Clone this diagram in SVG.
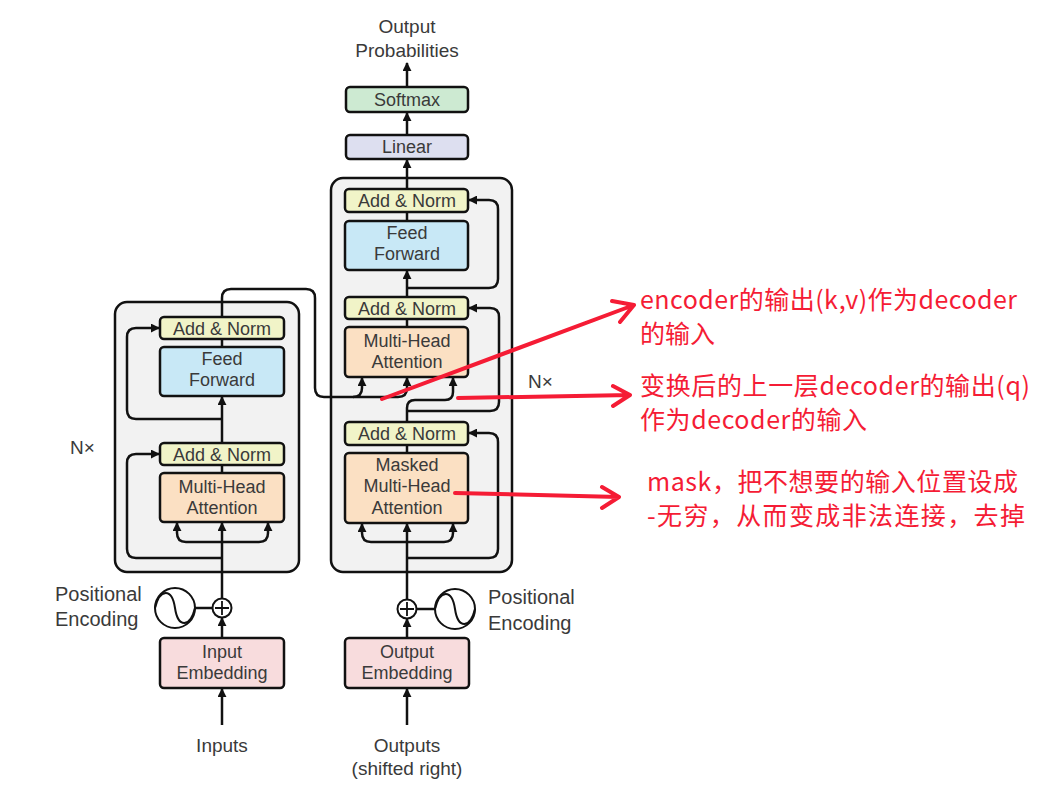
<svg xmlns="http://www.w3.org/2000/svg" width="1060" height="802" viewBox="0 0 1060 802">
<style>
.blk{fill:#F2F2F2;stroke:#111;stroke-width:2.5}
.box{stroke:#111;stroke-width:2.5}
.an{fill:#F1F4C8}
.ff{fill:#C8E8F6}
.mha{fill:#FBE0C3}
.emb{fill:#F8DCDD}
.lin{fill:#DDDFF0}
.sm{fill:#CDEAD2}
.t{font-family:"Liberation Sans",Arial,sans-serif;font-size:18px;fill:#3a3a3a;text-anchor:middle}
.lb{font-family:"Liberation Sans",Arial,sans-serif;font-size:19px;fill:#3a3a3a}
.c{fill:none;stroke:#111;stroke-width:2.5}
.ca{fill:none;stroke:#111;stroke-width:2.5;marker-end:url(#ah)}
.red{fill:none;stroke:#F51C35;stroke-width:4;stroke-linecap:round;stroke-linejoin:round}
.rt{font-family:"Noto Sans CJK SC","Noto Sans",sans-serif;font-size:25px;fill:#F51C35}
</style>
<defs>
<marker id="ah" viewBox="0 0 10 10" refX="9" refY="5" markerWidth="9" markerHeight="9" markerUnits="userSpaceOnUse" orient="auto"><path d="M0,0 L10,5 L0,10 z" fill="#111"/></marker>
</defs>
<rect width="1060" height="802" fill="#fff"/>

<g id="encoder-block"><rect class="blk" x="115" y="302" width="184" height="270" rx="12"/></g>
<g id="decoder-block"><rect class="blk" x="331" y="178" width="181" height="394" rx="12"/></g>

<g id="connectors">
<!-- encoder -->
<path class="ca" d="M222,725 V689"/>
<path class="ca" d="M222,638 V618"/>
<path class="ca" d="M222,598 V523"/>
<path class="ca" d="M222,542 H186 Q177,542 177,533 V523"/>
<path class="ca" d="M222,542 H259 Q268,542 268,533 V523"/>
<path class="ca" d="M222,558 H136 Q127,558 127,549 V463 Q127,454 136,454 H159"/>
<path class="c" d="M222,473 V465"/>
<path class="ca" d="M222,443 V397"/>
<path class="ca" d="M222,419 H136 Q127,419 127,410 V337 Q127,328 136,328 H159"/>
<path class="c" d="M222,347 V339"/>
<path class="ca" d="M222,317 V298 Q222,289 231,289 H306 Q315,289 315,298 V388 Q315,397 324,397 H353 Q362,397 362,388 V378"/>
<path class="ca" d="M353,397 H398 Q407,397 407,388 V378"/>
<!-- decoder -->
<path class="ca" d="M407,725 V689"/>
<path class="ca" d="M407,638 V619"/>
<path class="ca" d="M407,599 V524"/>
<path class="ca" d="M407,542 H371 Q362,542 362,533 V524"/>
<path class="ca" d="M407,542 H444 Q453,542 453,533 V524"/>
<path class="ca" d="M407,558 H489 Q498,558 498,549 V442 Q498,433 489,433 H469"/>
<path class="c" d="M407,453 V445"/>
<path class="ca" d="M407,422 V408 Q407,400 415,400 H445 Q453,400 453,392 V378"/>
<path class="ca" d="M407,411 H490 Q499,411 499,402 V317 Q499,308 490,308 H469"/>
<path class="c" d="M407,327 V319"/>
<path class="ca" d="M407,297 V271"/>
<path class="ca" d="M407,288 H489 Q498,288 498,279 V209 Q498,200 489,200 H469"/>
<path class="c" d="M407,221 V212"/>
<path class="ca" d="M407,189 V160"/>
<path class="ca" d="M407,135 V113"/>
<path class="ca" d="M407,87 V63"/>
<!-- positional encoding links -->
<path class="c" d="M195,608 H213"/>
<path class="c" d="M416.5,609 H435"/>
</g>

<g id="enc-pos-plus"><circle cx="222" cy="608" r="9.5" fill="#fff" stroke="#111" stroke-width="2"/><path d="M215,608 H229 M222,601 V615" stroke="#111" stroke-width="1.8"/></g>
<g id="enc-pos-sine"><circle cx="175" cy="608" r="20" fill="#fff" stroke="#111" stroke-width="2"/><path d="M155,608 C160,588 172,588 175,608 C178,628 190,628 195,608" fill="none" stroke="#111" stroke-width="2"/></g>
<g id="dec-pos-plus"><circle cx="407" cy="609" r="9.5" fill="#fff" stroke="#111" stroke-width="2"/><path d="M400,609 H414 M407,602 V616" stroke="#111" stroke-width="1.8"/></g>
<g id="dec-pos-sine"><circle cx="455" cy="609" r="20" fill="#fff" stroke="#111" stroke-width="2"/><path d="M435,609 C440,589 452,589 455,609 C458,629 470,629 475,609" fill="none" stroke="#111" stroke-width="2"/></g>

<g id="enc-addnorm2"><rect class="box an" x="160" y="317" width="124" height="22" rx="4"/><text class="t" x="222" y="334.5">Add &amp; Norm</text></g>
<g id="enc-ff"><rect class="box ff" x="160" y="347" width="124" height="49" rx="4"/><text class="t" x="222" y="365">Feed</text><text class="t" x="222" y="386">Forward</text></g>
<g id="enc-addnorm1"><rect class="box an" x="160" y="443" width="124" height="22" rx="4"/><text class="t" x="222" y="460.5">Add &amp; Norm</text></g>
<g id="enc-mha"><rect class="box mha" x="160" y="473" width="124" height="49" rx="4"/><text class="t" x="222" y="493">Multi-Head</text><text class="t" x="222" y="514">Attention</text></g>
<g id="enc-emb"><rect class="box emb" x="160" y="638" width="124" height="50" rx="4"/><text class="t" x="222" y="658">Input</text><text class="t" x="222" y="679">Embedding</text></g>

<g id="dec-softmax"><rect class="box sm" x="346" y="87" width="122" height="25" rx="4"/><text class="t" x="407" y="106">Softmax</text></g>
<g id="dec-linear"><rect class="box lin" x="346" y="135" width="122" height="24" rx="4"/><text class="t" x="407" y="153">Linear</text></g>
<g id="dec-addnorm3"><rect class="box an" x="345" y="189" width="123" height="23" rx="4"/><text class="t" x="407" y="207">Add &amp; Norm</text></g>
<g id="dec-ff"><rect class="box ff" x="345" y="221" width="123" height="49" rx="4"/><text class="t" x="407" y="239">Feed</text><text class="t" x="407" y="260">Forward</text></g>
<g id="dec-addnorm2"><rect class="box an" x="345" y="297" width="123" height="22" rx="4"/><text class="t" x="407" y="314.5">Add &amp; Norm</text></g>
<g id="dec-mha"><rect class="box mha" x="345" y="327" width="123" height="50" rx="4"/><text class="t" x="407" y="347">Multi-Head</text><text class="t" x="407" y="368">Attention</text></g>
<g id="dec-addnorm1"><rect class="box an" x="345" y="422" width="123" height="23" rx="4"/><text class="t" x="407" y="440">Add &amp; Norm</text></g>
<g id="dec-mmha"><rect class="box mha" x="345" y="453" width="123" height="70" rx="4"/><text class="t" x="407" y="471">Masked</text><text class="t" x="407" y="492">Multi-Head</text><text class="t" x="407" y="514">Attention</text></g>
<g id="dec-emb"><rect class="box emb" x="345" y="638" width="124" height="50" rx="4"/><text class="t" x="407" y="658">Output</text><text class="t" x="407" y="679">Embedding</text></g>

<g id="labels">
<text class="lb" x="407" y="33" text-anchor="middle">Output</text>
<text class="lb" x="407" y="57" text-anchor="middle">Probabilities</text>
<text class="lb" x="55" y="601" style="font-size:20px">Positional</text>
<text class="lb" x="55" y="626" style="font-size:20px">Encoding</text>
<text class="lb" x="488" y="604" style="font-size:20px">Positional</text>
<text class="lb" x="488" y="630" style="font-size:20px">Encoding</text>
<text class="lb" x="222" y="752" text-anchor="middle">Inputs</text>
<text class="lb" x="407" y="752" text-anchor="middle">Outputs</text>
<text class="lb" x="407" y="775" text-anchor="middle">(shifted right)</text>
<text class="lb" x="70" y="454">N×</text>
<text class="lb" x="528" y="388">N×</text>
</g>

<g id="annotations">
<path class="red" d="M382,399 L634,305 M612,301 L634,305 L620,322"/>
<path class="red" d="M458,398 L630,395 M613,386 L630,395 L613,406"/>
<path class="red" d="M455,493 L619,497 M602,487 L619,497 L602,508"/>
<text class="rt" x="640" y="309" textLength="377" lengthAdjust="spacing">encoder的输出(k,v)作为decoder</text>
<text class="rt" x="640" y="343">的输入</text>
<text class="rt" x="640" y="395" textLength="390" lengthAdjust="spacing">变换后的上一层decoder的输出(q)</text>
<text class="rt" x="640" y="429" textLength="227" lengthAdjust="spacing">作为decoder的输入</text>
<text class="rt" x="647" y="491" textLength="371" lengthAdjust="spacing">mask，把不想要的输入位置设成</text>
<text class="rt" x="647" y="525" textLength="378" lengthAdjust="spacing">-无穷，从而变成非法连接，去掉</text>
</g>
</svg>
